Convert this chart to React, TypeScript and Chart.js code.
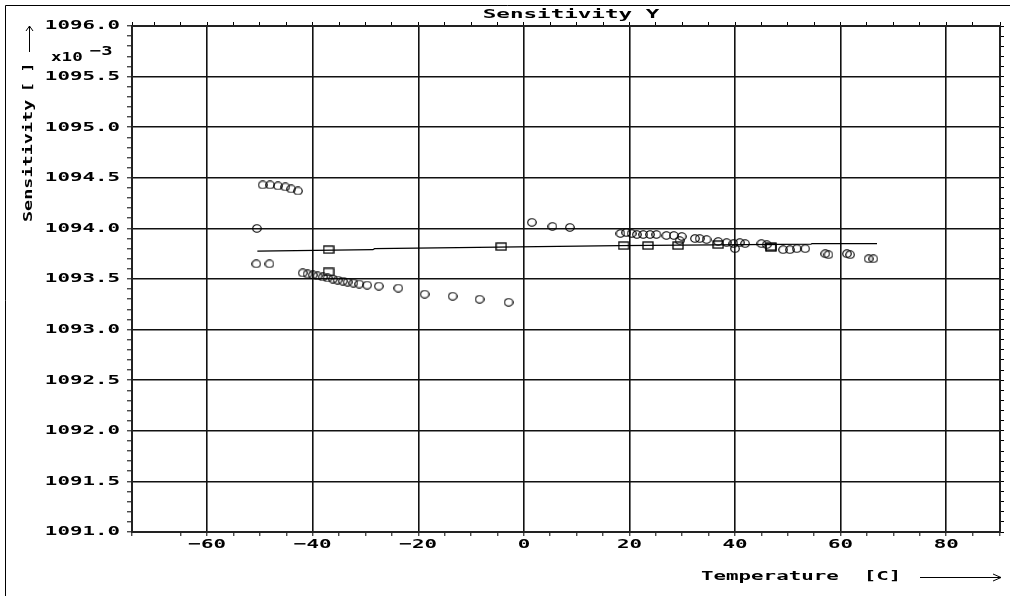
import React, { useEffect, useRef } from 'react';
import { Chart, registerables } from 'chart.js';

Chart.register(...registerables);

// ---- data ----
const circleTemps = [
  -49.5, -48.1, -46.6, -45.2, -44.1, -42.8,
  -50.6,
  -50.7, -48.2,
  -41.9, -41.0, -40.0, -39.1, -38.1, -37.2, -36.2, -35.3, -34.3, -33.4, -32.3, -31.2, -29.7, -27.5, -23.8, -18.8, -13.5, -8.4, -2.9,
  1.5, 5.4, 8.7,
  18.3, 19.4, 20.4, 21.4, 22.6, 23.9, 25.1, 27.0, 28.4, 29.9, 29.5, 32.4, 33.3, 34.6, 36.8, 38.4, 39.7, 40.0, 40.9, 41.9,
  45.0, 46.0, 49.1, 50.4, 51.7, 53.3, 57.1, 57.7, 61.2, 61.8, 65.3, 66.2,
];
const circleValues = [
  1094.43, 1094.43, 1094.42, 1094.41, 1094.39, 1094.37,
  1094.0,
  1093.65, 1093.65,
  1093.56, 1093.55, 1093.54, 1093.53, 1093.52, 1093.51, 1093.5, 1093.49, 1093.48, 1093.47, 1093.46, 1093.45, 1093.44, 1093.43, 1093.41, 1093.35, 1093.33, 1093.3, 1093.27,
  1094.06, 1094.02, 1094.01,
  1093.95, 1093.96, 1093.95, 1093.94, 1093.94, 1093.94, 1093.94, 1093.93, 1093.93, 1093.92, 1093.88, 1093.9, 1093.9, 1093.89, 1093.87, 1093.86, 1093.85, 1093.8, 1093.86, 1093.85,
  1093.85, 1093.84, 1093.79, 1093.79, 1093.8, 1093.8, 1093.75, 1093.74, 1093.75, 1093.74, 1093.7, 1093.7,
];
const squareTemps = [-37.0, -37.0, -4.3, 18.9, 23.5, 29.2, 36.8, 46.8, 46.8];
const squareValues = [1093.79, 1093.57, 1093.82, 1093.83, 1093.83, 1093.83, 1093.84, 1093.82, 1093.81];
const fitTemps = [-50.5, -28.6, -28.3, -12.5, -5.0, 18.0, 54.4, 54.6, 66.9];
const fitValues = [1093.775, 1093.79, 1093.8, 1093.81, 1093.815, 1093.83, 1093.845, 1093.85, 1093.85];

const xLabelValues = [-60, -40, -20, 0, 20, 40, 60, 80];
const yLabelValues = [1091.0, 1091.5, 1092.0, 1092.5, 1093.0, 1093.5, 1094.0, 1094.5, 1095.0, 1095.5, 1096.0];

const titleText = 'Sensitivity Y';
const xTitleText = 'Temperature  [C]';
const yTitleText = 'Sensitivity';
const yUnitText = '[ ]';
const yScaleText = 'x10';
const yScaleExp = '\u22123';

const X_MIN = -74.25;
const X_MAX = 90.2;
const Y_MIN = 1091;
const Y_MAX = 1096;

const FONT = '"DejaVu Sans Mono", "Liberation Mono", monospace';

function isMajorX(v: number) {
  return xLabelValues.some((m) => Math.abs(m - v) < 1e-6);
}
function isMajorY(v: number) {
  return yLabelValues.some((m) => Math.abs(m - v) < 1e-6);
}

function makeEllipse(w: number, h: number) {
  const c = document.createElement('canvas');
  c.width = w + 2;
  c.height = h + 2;
  const g = c.getContext('2d')!;
  g.strokeStyle = '#000';
  g.lineWidth = 1.2;
  g.beginPath();
  g.ellipse(c.width / 2, c.height / 2, w / 2, h / 2, 0, 0, Math.PI * 2);
  g.stroke();
  return c;
}
function makeRect(w: number, h: number) {
  const c = document.createElement('canvas');
  c.width = w + 2;
  c.height = h + 2;
  const g = c.getContext('2d')!;
  g.strokeStyle = '#000';
  g.lineWidth = 1.3;
  g.strokeRect(1, 1, w, h);
  return c;
}

const decorPlugin = {
  id: 'decor',
  afterDraw(chart: any) {
    const ctx = chart.ctx;
    const area = chart.chartArea;
    ctx.save();
    ctx.strokeStyle = '#000';
    ctx.fillStyle = '#000';
    ctx.lineWidth = 1;
    // outer frame (left + top)
    ctx.beginPath();
    ctx.moveTo(5.5, chart.height);
    ctx.lineTo(5.5, 5.5);
    ctx.lineTo(chart.width, 5.5);
    ctx.stroke();

    // title
    ctx.font = `bold 12px ${FONT}`;
    ctx.textAlign = 'center';
    ctx.textBaseline = 'middle';
    ctx.__sx = 1.88;
    ctx.fillText(titleText, (area.left + area.right) / 2 + 5, 15);

    // x axis title
    ctx.font = `bold 13px ${FONT}`;
    ctx.textAlign = 'left';
    ctx.__sx = 1.6;
    ctx.fillText(xTitleText, 701, 577);
    ctx.lineWidth = 1;
    ctx.beginPath();
    ctx.moveTo(920, 577.5);
    ctx.lineTo(1001, 577.5);
    ctx.moveTo(993, 574);
    ctx.lineTo(1001, 577.5);
    ctx.lineTo(993, 581);
    ctx.stroke();

    // y scale factor
    ctx.__sx = 1.35;
    ctx.textBaseline = 'alphabetic';
    ctx.fillText(yScaleText, 51, 61);
    ctx.__sx = 1.45;
    ctx.fillText(yScaleExp, 90, 55);

    // y axis title (rotated)
    ctx.save();
    ctx.translate(29, 222);
    ctx.rotate(-Math.PI / 2);
    ctx.textAlign = 'left';
    ctx.textBaseline = 'middle';
    ctx.__sx = 1.42;
    ctx.fillText(yTitleText, 0, 0);
    ctx.__sx = 1.25;
    ctx.fillText(yUnitText, 130, 0);
    ctx.beginPath();
    ctx.moveTo(170, 0.5);
    ctx.lineTo(196, 0.5);
    ctx.moveTo(191, -3);
    ctx.lineTo(196, 0.5);
    ctx.lineTo(191, 4);
    ctx.stroke();
    ctx.restore();

    ctx.__sx = 1.6;
    ctx.restore();
  },
};

export default function App() {
  const ref = useRef<HTMLCanvasElement>(null);

  useEffect(() => {
    const canvas = ref.current!;
    const ctx: any = canvas.getContext('2d')!;
    if (!ctx.__patched) {
      const orig = ctx.fillText.bind(ctx);
      ctx.fillText = function (text: string, x: number, y: number) {
        const sx = ctx.__sx ?? 1.6;
        ctx.save();
        ctx.translate(x, y);
        ctx.scale(sx, 1);
        orig(text, 0, 0);
        ctx.restore();
      };
      ctx.__patched = true;
      ctx.__sx = 1.6;
    }

    const circleImg = makeEllipse(8.5, 7.5);
    const squareImg = makeRect(10, 7);
    const tickFont = { family: FONT, size: 13, weight: 'bold' as const };

    const chart = new Chart(canvas, {
      type: 'scatter',
      data: {
        datasets: [
          {
            label: 'measured',
            data: circleTemps.map((t, i) => ({ x: t, y: circleValues[i] })),
            pointStyle: circleImg as any,
            pointRadius: 4,
            showLine: false,
          },
          {
            label: 'corrected',
            data: squareTemps.map((t, i) => ({ x: t, y: squareValues[i] })),
            pointStyle: squareImg as any,
            pointRadius: 5,
            showLine: false,
          },
          {
            label: 'fit',
            data: fitTemps.map((t, i) => ({ x: t, y: fitValues[i] })),
            showLine: true,
            pointRadius: 0,
            borderColor: '#000',
            borderWidth: 1.2,
            tension: 0,
            fill: false,
          },
        ],
      },
      options: {
        animation: false,
        responsive: false,
        events: [],
        layout: { padding: 0 },
        plugins: {
          legend: { display: false },
          tooltip: { enabled: false },
          title: { display: false },
        },
        scales: {
          x: {
            type: 'linear',
            position: 'bottom',
            min: X_MIN,
            max: X_MAX,
            afterFit: (s: any) => {
              s.height = 64;
            },
            ticks: {
              stepSize: 5,
              autoSkip: false,
              maxRotation: 0,
              minRotation: 0,
              padding: 1,
              color: '#000',
              font: tickFont,
              callback: (v: any) => (isMajorX(Number(v)) ? String(v).replace('-', '\u2212') : ''),
            },
            grid: {
              color: (c: any) => (c.tick && isMajorX(c.tick.value) ? '#111' : 'rgba(0,0,0,0)'),
              tickColor: '#000',
              lineWidth: 1.6,
              tickWidth: 1,
              tickLength: 4,
            },
            border: { color: '#222', width: 2 },
          },
          x2: {
            type: 'linear',
            position: 'top',
            min: X_MIN,
            max: X_MAX,
            afterFit: (s: any) => {
              s.height = 26;
            },
            ticks: { stepSize: 5, autoSkip: false, maxRotation: 0, callback: () => '', font: { size: 1 } },
            grid: { drawOnChartArea: false, tickColor: '#000', tickLength: 4, tickWidth: 1 },
            border: { color: '#222', width: 2 },
          },
          y: {
            type: 'linear',
            position: 'left',
            min: Y_MIN,
            max: Y_MAX,
            afterFit: (s: any) => {
              s.width = 132;
            },
            ticks: {
              stepSize: 0.1,
              autoSkip: false,
              padding: 7,
              color: '#000',
              font: tickFont,
              callback: (v: any) => (isMajorY(Number(v)) ? Number(v).toFixed(1) : ''),
            },
            grid: {
              color: (c: any) => (c.tick && isMajorY(c.tick.value) ? '#111' : 'rgba(0,0,0,0)'),
              tickColor: '#000',
              lineWidth: 1.6,
              tickWidth: 1,
              tickLength: 5,
            },
            border: { color: '#222', width: 2 },
          },
          y2: {
            type: 'linear',
            position: 'right',
            min: Y_MIN,
            max: Y_MAX,
            afterFit: (s: any) => {
              s.width = 10;
            },
            ticks: { stepSize: 0.1, autoSkip: false, callback: () => '', font: { size: 1 } },
            grid: { drawOnChartArea: false, tickColor: '#000', tickLength: 4, tickWidth: 1 },
            border: { color: '#222', width: 2 },
          },
        },
      } as any,
      plugins: [decorPlugin],
    });

    return () => {
      chart.destroy();
    };
  }, []);

  return (
    <div style={{ position: 'fixed', left: 0, top: 0, width: 1010, height: 596, background: '#fff' }}>
      <canvas ref={ref} width={1010} height={596} style={{ width: 1010, height: 596, display: 'block' }} />
    </div>
  );
}
